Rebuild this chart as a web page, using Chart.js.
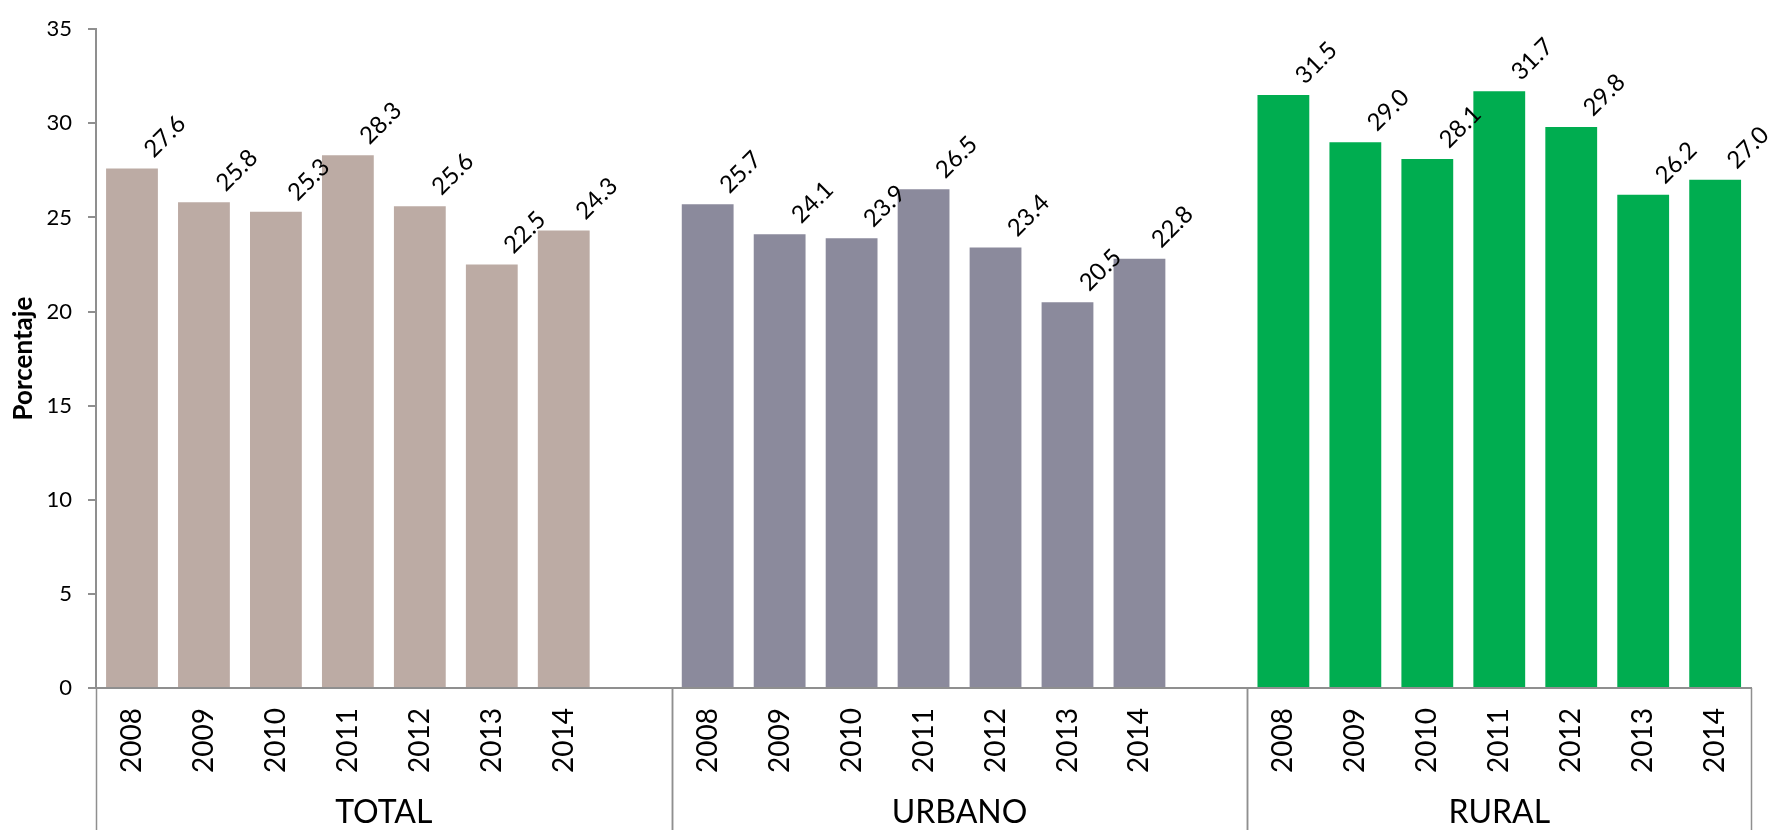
<!DOCTYPE html>
<html lang="es">
<head>
<meta charset="utf-8">
<title>Porcentaje por área, 2008-2014</title>
<script src="https://cdn.jsdelivr.net/npm/chart.js@4.4.1/dist/chart.umd.min.js"></script>
<style>
  html, body { margin: 0; padding: 0; background: #fff; }
  #chart { display: block; }
</style>
</head>
<body>
<canvas id="chart" width="1769" height="830"></canvas>
<script>
/* ── Data ── */
const years        = ["2008", "2009", "2010", "2011", "2012", "2013", "2014"];
const groups       = ["TOTAL", "URBANO", "RURAL"];
const totalValues  = [27.6, 25.8, 25.3, 28.3, 25.6, 22.5, 24.3];
const urbanoValues = [25.7, 24.1, 23.9, 26.5, 23.4, 20.5, 22.8];
const ruralValues  = [31.5, 29.0, 28.1, 31.7, 29.8, 26.2, 27.0];

/* ── Colours ── */
const COLORS = {
  total:  "#bcaba4",
  urbano: "#8b8a9c",
  rural:  "#00ad50",
  axis:   "#8f8f8f",
  text:   "#000000",
};
const FONT = "Lato, 'Open Sans', sans-serif";

/* ── Build the flat category list: each group plus an empty slot between groups ── */
const labels = [...years, "", ...years, "", ...years];
const values = [...totalValues, null, ...urbanoValues, null, ...ruralValues];
const barColors = [
  ...years.map(() => COLORS.total),  COLORS.total,
  ...years.map(() => COLORS.urbano), COLORS.urbano,
  ...years.map(() => COLORS.rural),
];
// slot index ranges for each group (start inclusive, end inclusive)
const groupSpans = [[0, 7], [8, 15], [16, 22]];


/* ── Plugin: rotated value labels above each bar ── */
const valueLabels = {
  id: "valueLabels",
  afterDatasetsDraw(chart) {
    const ctx  = chart.ctx;
    const meta = chart.getDatasetMeta(0);
    ctx.save();
    ctx.fillStyle    = COLORS.text;
    ctx.font         = "24px " + FONT;
    ctx.textAlign    = "center";
    ctx.textBaseline = "middle";
    meta.data.forEach((bar, i) => {
      const v = values[i];
      if (v === null) return;
      ctx.save();
      ctx.translate(bar.x + 33, bar.y - 32);
      ctx.rotate(-Math.PI / 4);
      ctx.fillText(v.toFixed(1), 0, 0);
      ctx.restore();
    });
    ctx.restore();
  },
};


/* ── Plugin: group separators and group names under the years ── */
const groupAxis = {
  id: "groupAxis",
  afterDraw(chart) {
    const ctx    = chart.ctx;
    const xScale = chart.scales.x;
    const slot   = xScale.getPixelForValue(1) - xScale.getPixelForValue(0);
    const top    = chart.chartArea.bottom;
    const bottom = chart.height;

    ctx.save();
    ctx.strokeStyle = COLORS.axis;
    ctx.lineWidth   = 1.5;
    ctx.fillStyle   = COLORS.text;
    ctx.font        = "32px " + FONT;
    ctx.textAlign   = "center";
    ctx.textBaseline = "alphabetic";

    groupSpans.forEach(([a, b], gi) => {
      const left  = xScale.getPixelForValue(a) - slot / 2;
      const right = xScale.getPixelForValue(b) + slot / 2;
      [left, right].forEach(x => {
        ctx.beginPath();
        ctx.moveTo(Math.round(x) + 0.5, top);
        ctx.lineTo(Math.round(x) + 0.5, bottom);
        ctx.stroke();
      });
      ctx.fillText(groups[gi], (left + right) / 2, 823);
    });
    ctx.restore();
  },
};


/* ── Chart ── */
new Chart(document.getElementById("chart").getContext("2d"), {
  type: "bar",
  data: {
    labels,
    datasets: [{
      data:               values,
      backgroundColor:    barColors,
      borderWidth:        0,
      barPercentage:      0.72,
      categoryPercentage: 1.0,
    }],
  },
  options: {
    responsive: false,
    animation:  false,
    layout: { padding: { top: 28, right: 11, left: 0, bottom: 0 } },
    plugins: {
      legend:  { display: false },
      tooltip: { enabled: false },
    },
    scales: {
      x: {
        grid:   { display: false, drawTicks: false },
        border: { display: true, color: COLORS.axis, width: 2 },
        ticks: {
          autoSkip:    false,
          minRotation: 90,
          maxRotation: 90,
          padding:     20,
          color:       COLORS.text,
          font:        { family: FONT, size: 28 },
        },
        afterFit: s => { s.height = 142; },
      },
      y: {
        min: 0,
        max: 35,
        grid: {
          drawOnChartArea: false,
          drawTicks:       true,
          tickLength:      8,
          color:           COLORS.axis,
          lineWidth:       2,
        },
        border: { display: true, color: COLORS.axis, width: 2 },
        ticks: {
          stepSize: 5,
          padding:  16,
          color:    COLORS.text,
          font:     { family: FONT, size: 22 },
        },
        title: {
          display: true,
          text:    "Porcentaje",
          color:   COLORS.text,
          font:    { family: FONT, size: 26, weight: "bold" },
          padding: { top: 8, bottom: 0 },
        },
        afterFit: s => { s.width = 96; },
      },
    },
  },
  plugins: [valueLabels, groupAxis],
});
</script>
</body>
</html>
